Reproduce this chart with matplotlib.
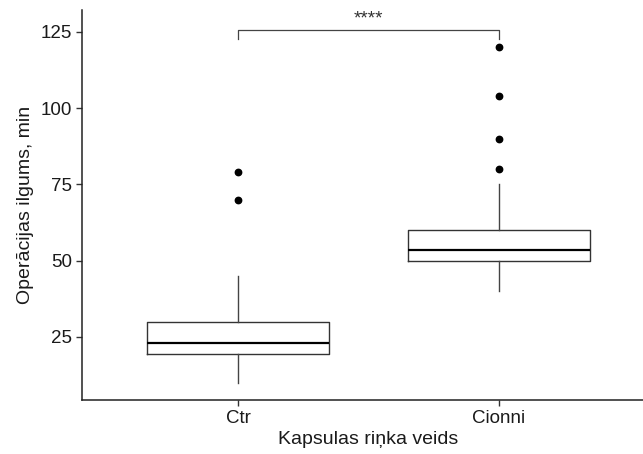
import matplotlib
matplotlib.use("Agg")
import matplotlib.pyplot as plt

plt.rcParams['font.family'] = ['Liberation Sans', 'DejaVu Sans']

# Box summary per group
groups = ["Ctr", "Cionni"]
whisker_low = [10, 40]
q1 = [19.5, 50]
median = [23, 53.5]
q3 = [30, 60]
whisker_high = [45, 75]
outliers = [[70, 79], [80, 90, 104, 120]]

signif_label = "****"
bracket_y = 125.8
bracket_drop = 3.2

fig = plt.figure(figsize=(6.43, 4.54), dpi=100)
ax = fig.add_axes([0.127, 0.119, 0.8925, 0.859])

stats = []
for i, g in enumerate(groups):
    stats.append(dict(label=g, whislo=whisker_low[i], q1=q1[i], med=median[i],
                      q3=q3[i], whishi=whisker_high[i], fliers=outliers[i]))

ax.bxp(stats, positions=[1, 2], widths=0.7, showcaps=False, patch_artist=False,
       boxprops=dict(color='#333333', linewidth=1.0),
       medianprops=dict(color='black', linewidth=1.6),
       whiskerprops=dict(color='#444444', linewidth=1.0),
       flierprops=dict(marker='o', markerfacecolor='black', markeredgecolor='black',
                       markersize=4.6))

# significance bracket
ax.plot([1, 1, 2, 2], [bracket_y - bracket_drop, bracket_y, bracket_y, bracket_y - bracket_drop],
        color='#444444', linewidth=0.9, clip_on=False)
ax.text(1.5, bracket_y + 0.8, signif_label, ha='center', va='bottom', fontsize=13.5,
        color='#333333')

ax.set_xlim(0.4, 2.6)
ax.set_ylim(4.34, 132.2)
ax.set_yticks([25, 50, 75, 100, 125])
ax.set_xticks([1, 2])
ax.set_xticklabels(groups)

for s in ['top', 'right']:
    ax.spines[s].set_visible(False)
for s in ['left', 'bottom']:
    ax.spines[s].set_color('#222222')
    ax.spines[s].set_linewidth(1.1)

ax.tick_params(axis='both', length=4, width=1.0, color='#333333', labelsize=13.5,
               labelcolor='#1a1a1a', pad=3)
ax.set_xlabel("Kapsulas riņka veids", fontsize=14, color='#1a1a1a', labelpad=3)
ax.set_ylabel("Operācijas ilgums, min", fontsize=14, color='#1a1a1a', labelpad=5)

fig.savefig("out.png", dpi=100)
